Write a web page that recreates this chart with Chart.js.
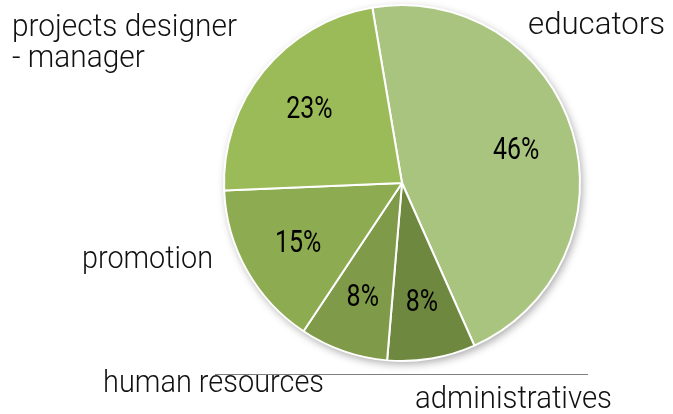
<!DOCTYPE html>
<html>
<head>
<meta charset="utf-8">
<script src="https://cdn.jsdelivr.net/npm/chart.js@4.4.1/dist/chart.umd.min.js"></script>
<style>
  html, body { margin: 0; padding: 0; background: #fff; }
  #wrap { width: 673px; height: 414px; }
</style>
</head>
<body>
<div id="wrap"><canvas id="pie" width="673" height="414"></canvas></div>
<script>
// slices, clockwise from just left of top
const categories = ['educators', 'administratives', 'human resources', 'promotion', 'projects designer - manager'];
const shares = [46, 8, 8, 15, 23];
const sliceColors = ['#a9c47f', '#6f8840', '#7f9a49', '#8dab50', '#9bbb59'];

// outside labels (text lines, left x, baseline y, fitted width)
const outsideLabels = [
    { lines: ['educators'], x: 528, y: 34, w: 137 },
    { lines: ['administratives'], x: 415, y: 408, w: 197 },
    { lines: ['human resources'], x: 103, y: 392, w: 221 },
    { lines: ['promotion'], x: 82, y: 268, w: 131 },
    { lines: ['projects designer', '- manager'], x: 12, y: 36, w: 225, lh: 31 }
];

// soft shadow under the whole pie
const pieShadow = {
    id: 'pieShadow',
    beforeDatasetsDraw(chart) {
        const arc = chart.getDatasetMeta(0).data[0];
        if (!arc) return;
        const ctx = chart.ctx;
        ctx.save();
        ctx.shadowColor = 'rgba(0,0,0,0.35)';
        ctx.shadowBlur = 9;
        ctx.shadowOffsetX = 2;
        ctx.shadowOffsetY = 3;
        ctx.fillStyle = '#fff';
        ctx.beginPath();
        ctx.arc(arc.x, arc.y, arc.outerRadius, 0, Math.PI * 2);
        ctx.fill();
        ctx.restore();
    }
};

const sliceLabels = {
    id: 'sliceLabels',
    afterDatasetsDraw(chart) {
        const ctx = chart.ctx;
        const meta = chart.getDatasetMeta(0);
        ctx.save();

        // percentages inside the slices
        ctx.fillStyle = '#000';
        ctx.font = '32px Roboto, sans-serif';
        ctx.textAlign = 'center';
        ctx.textBaseline = 'middle';
        meta.data.forEach((arc, i) => {
            const mid = (arc.startAngle + arc.endAngle) / 2;
            const r = arc.outerRadius * 0.67;
            const x = arc.x + Math.cos(mid) * r;
            const y = arc.y + Math.sin(mid) * r + 2;
            const t = shares[i] + '%';
            ctx.fillText(t, x, y, ctx.measureText(t).width * 0.78);
        });

        // leader line for human resources
        ctx.strokeStyle = '#7f7f7f';
        ctx.lineWidth = 1;
        ctx.beginPath();
        ctx.moveTo(215, 374.5);
        ctx.lineTo(588, 374.5);
        ctx.stroke();

        // category names
        ctx.font = '300 32px Roboto, sans-serif';
        ctx.textAlign = 'left';
        ctx.textBaseline = 'alphabetic';
        ctx.fillStyle = '#111';
        outsideLabels.forEach(l => {
            const full = ctx.measureText(l.lines[0]).width;
            const scale = l.w / full;
            l.lines.forEach((t, j) => {
                const tw = ctx.measureText(t).width;
                ctx.fillText(t, l.x, l.y + j * (l.lh || 0), tw * scale);
            });
        });
        ctx.restore();
    }
};

new Chart(document.getElementById('pie'), {
    type: 'pie',
    data: {
        labels: categories,
        datasets: [{
            data: shares,
            backgroundColor: sliceColors,
            borderColor: '#ffffff',
            borderWidth: 2
        }]
    },
    options: {
        responsive: false,
        animation: false,
        rotation: -9.6,
        layout: { padding: { top: 4, bottom: 52, left: 223, right: 92 } },
        plugins: {
            legend: { display: false },
            tooltip: { enabled: false }
        }
    },
    plugins: [pieShadow, sliceLabels]
});
</script>
</body>
</html>
